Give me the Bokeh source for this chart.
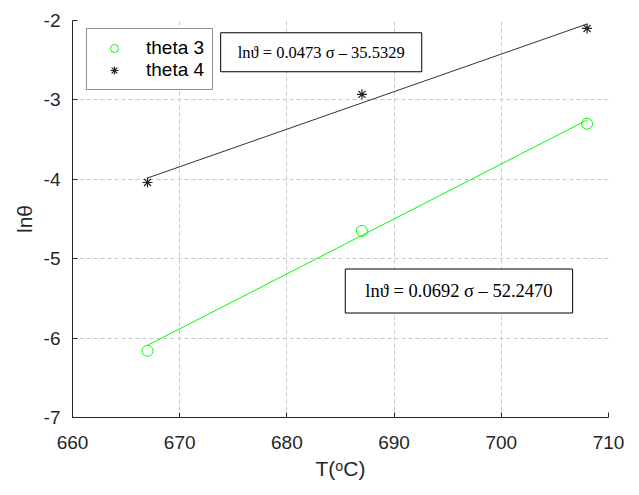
from bokeh.plotting import figure
from bokeh.models import Range1d, FixedTicker, Legend, LegendItem, Label
from bokeh.embed import file_html
from bokeh.resources import INLINE
import numpy as np

# Data
temps = [667, 687, 708]
theta3 = [-6.16, -4.65, -3.30]
theta4 = [-4.04, -2.93, -2.10]

# Linear fits printed on the chart
fit3_slope, fit3_intercept = 0.0692, -52.2470
fit4_slope, fit4_intercept = 0.0473, -35.5329

x_ticks = [660, 670, 680, 690, 700, 710]
y_ticks = [-7, -6, -5, -4, -3, -2]
y_tick_labels = ["-7", "-6", "-5", "-4", "-3", "-2"]

eq4_text = "lnϑ = 0.0473 σ – 35.5329"
eq3_text = "lnϑ = 0.0692 σ – 52.2470"

p = figure(width=639, height=495, output_backend="svg", toolbar_location=None,
           x_range=Range1d(660, 710), y_range=Range1d(-7, -2),
           min_border_left=72, min_border_right=31, min_border_top=20, min_border_bottom=78)
p.outline_line_color = None
p.background_fill_color = "white"
p.border_fill_color = "white"

for ax in (p.xaxis, p.yaxis):
    ax.axis_line_color = "#262626"
    ax.major_tick_line_color = "#262626"
    ax.major_tick_in = 5
    ax.major_tick_out = 0
    ax.minor_tick_line_color = None
    ax.major_label_text_font = "Liberation Sans"
    ax.major_label_text_font_size = "19px"
    ax.major_label_text_color = "#262626"
    ax.axis_label_text_font = "Liberation Sans"
    ax.axis_label_text_font_size = "21px"
    ax.axis_label_text_font_style = "normal"
    ax.axis_label_text_color = "#262626"

p.xaxis.ticker = FixedTicker(ticks=x_ticks)
p.yaxis.ticker = FixedTicker(ticks=y_ticks)
p.yaxis.major_label_overrides = {t: s for t, s in zip(y_ticks, y_tick_labels)}
p.xaxis.axis_label = "T(ᵒC)"
p.yaxis.axis_label = "lnθ"
p.xaxis.major_label_standoff = 18
p.xaxis.axis_label_standoff = 5
p.yaxis.major_label_standoff = 12

p.grid.grid_line_color = "#c8c8c8"
p.grid.grid_line_dash = "4 3"
p.grid.grid_line_width = 1

# fit lines
xf = np.array([temps[0], temps[-1]], dtype=float)
p.line(xf, fit3_slope * xf + fit3_intercept, line_color="#00ff00", line_width=1)
p.line(xf, fit4_slope * xf + fit4_intercept, line_color="#333333", line_width=1)

r3 = p.scatter(temps, theta3, marker="circle", size=11, fill_color=None,
               line_color="#00ff00", line_width=1)
r4 = p.scatter(temps, theta4, marker="asterisk", size=10, line_color="#222222", line_width=1.2)

legend = Legend(items=[LegendItem(label="theta 3", renderers=[r3]),
                       LegendItem(label="theta 4", renderers=[r4])],
                location=(14, 327))
legend.label_text_font = "Liberation Sans"
legend.label_text_font_size = "19px"
legend.label_text_color = "#000000"
legend.border_line_color = "#262626"
legend.border_line_width = 1
legend.background_fill_color = "white"
legend.background_fill_alpha = 1
legend.glyph_width = 38
legend.label_standoff = 13
legend.spacing = 0
legend.padding = 8
legend.margin = 0
p.add_layout(legend)

lab4 = Label(x=683.2, y=-2.40, text=eq4_text, text_align="center", text_baseline="middle",
             text_font="Liberation Serif", text_font_size="16.5px", text_color="black",
             background_fill_color="white", border_line_color="black", border_line_width=1,
             padding=(17, 10))
lab3 = Label(x=696.05, y=-5.407, text=eq3_text, text_align="center", text_baseline="middle",
             text_font="Liberation Serif", text_font_size="18.5px", text_color="black",
             background_fill_color="white", border_line_color="black", border_line_width=1,
             padding=(20, 12))
p.add_layout(lab4)
p.add_layout(lab3)

open("out.html", "w").write(file_html(p, INLINE))
